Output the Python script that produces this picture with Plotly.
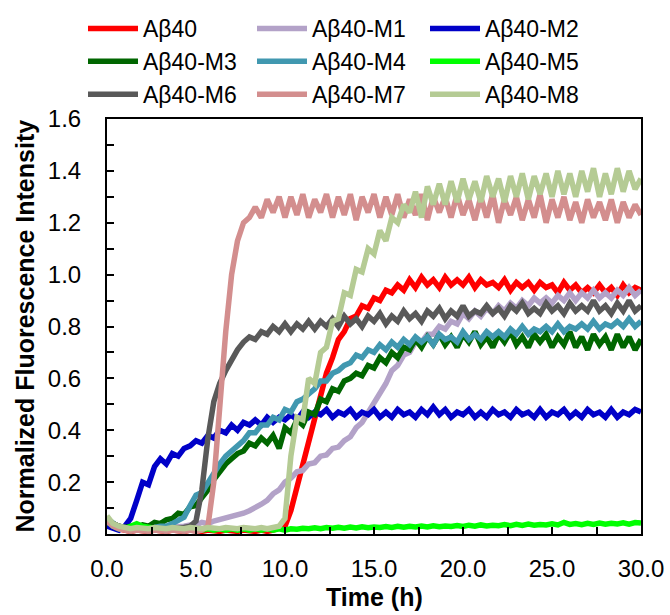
import plotly.graph_objects as go

time_h = [0.0, 0.33, 0.67, 1.0, 1.33, 1.67, 2.0, 2.33, 2.67, 3.0,
          3.33, 3.67, 4.0, 4.33, 4.67, 5.0, 5.33, 5.67, 6.0, 6.33,
          6.67, 7.0, 7.33, 7.67, 8.0, 8.33, 8.67, 9.0, 9.33, 9.67,
          10.0, 10.33, 10.67, 11.0, 11.33, 11.67, 12.0, 12.33, 12.67, 13.0,
          13.33, 13.67, 14.0, 14.33, 14.67, 15.0, 15.33, 15.67, 16.0, 16.33,
          16.67, 17.0, 17.33, 17.67, 18.0, 18.33, 18.67, 19.0, 19.33, 19.67,
          20.0, 20.33, 20.67, 21.0, 21.33, 21.67, 22.0, 22.33, 22.67, 23.0,
          23.33, 23.67, 24.0, 24.33, 24.67, 25.0, 25.33, 25.67, 26.0, 26.33,
          26.67, 27.0, 27.33, 27.67, 28.0, 28.33, 28.67, 29.0, 29.33, 29.67,
          30.0]

ab40 = [0.05, 0.03, 0.02, 0.015, 0.01, 0.015, 0.01, 0.01, 0.015, 0.01,
        0.01, 0.015, 0.01, 0.01, 0.015, 0.01, 0.01, 0.015, 0.01, 0.01,
        0.015, 0.01, 0.01, 0.015, 0.01, 0.01, 0.015, 0.01, 0.015, 0.02,
        0.03, 0.09, 0.18, 0.28, 0.36, 0.45, 0.55, 0.62, 0.68, 0.75,
        0.78, 0.83, 0.84, 0.88, 0.87, 0.91, 0.90, 0.94, 0.93, 0.96,
        0.94,
        0.98, 0.95, 0.99, 0.96, 0.98, 0.95, 0.99, 0.96, 0.98, 0.96,
        0.99, 0.95, 0.98, 0.96, 0.97, 0.95, 0.98, 0.94, 0.97, 0.95,
        0.97, 0.94, 0.97, 0.95, 0.96, 0.93, 0.97, 0.94, 0.96, 0.93,
        0.95, 0.93, 0.96, 0.93, 0.95, 0.92, 0.96, 0.93, 0.95, 0.94]

m1 = [0.05, 0.03, 0.025, 0.02, 0.02, 0.025, 0.02, 0.02, 0.025, 0.02,
      0.025, 0.025, 0.03, 0.03, 0.035,
      0.035, 0.045, 0.04, 0.05, 0.055, 0.06, 0.065, 0.075, 0.08, 0.09,
      0.10, 0.115, 0.13, 0.155, 0.17,
      0.20, 0.215, 0.24, 0.245, 0.27, 0.275, 0.30, 0.305, 0.33, 0.335,
      0.36, 0.375, 0.41, 0.43, 0.47, 0.51, 0.55, 0.58, 0.63, 0.65,
      0.69, 0.70, 0.74, 0.74, 0.77, 0.77, 0.80, 0.79, 0.82, 0.81,
      0.85, 0.83, 0.86, 0.84, 0.87, 0.85, 0.88, 0.86, 0.89, 0.87,
      0.90, 0.88, 0.91, 0.89, 0.91, 0.89, 0.92, 0.90, 0.93, 0.90,
      0.93, 0.91, 0.94, 0.91, 0.93, 0.91, 0.94, 0.92, 0.95, 0.92,
      0.94]

m2 = [0.03, 0.02, 0.015, 0.03, 0.06, 0.13, 0.20, 0.19, 0.26, 0.29,
      0.27, 0.31, 0.30, 0.33, 0.34, 0.36, 0.35, 0.38, 0.37, 0.40,
      0.39, 0.42, 0.40, 0.43, 0.42, 0.44, 0.42, 0.45, 0.43, 0.45,
      0.44, 0.46, 0.44, 0.47, 0.45, 0.47, 0.46,
      0.48, 0.45, 0.47, 0.46, 0.48, 0.45, 0.47, 0.46, 0.48, 0.45,
      0.47, 0.45, 0.48, 0.46, 0.47, 0.45, 0.48, 0.46, 0.49, 0.46,
      0.48, 0.45, 0.47, 0.46, 0.48, 0.45, 0.47, 0.45, 0.48, 0.46,
      0.47, 0.45, 0.48, 0.46, 0.47, 0.45, 0.48, 0.45, 0.47, 0.46,
      0.48, 0.45, 0.47, 0.45, 0.48, 0.46, 0.47, 0.45, 0.48, 0.45,
      0.47, 0.46, 0.48, 0.47]

m3 = [0.06, 0.04, 0.03, 0.025, 0.03, 0.025, 0.035, 0.03, 0.045, 0.04,
      0.055, 0.06, 0.08, 0.075, 0.105, 0.11, 0.14, 0.17, 0.21, 0.24,
      0.27, 0.29, 0.31, 0.32, 0.35, 0.34, 0.37, 0.35, 0.38, 0.33,
      0.41, 0.39, 0.44, 0.42, 0.47, 0.46, 0.52, 0.51, 0.56, 0.55,
      0.59, 0.60, 0.62, 0.61, 0.65, 0.64, 0.68, 0.66, 0.70, 0.68,
      0.72, 0.71, 0.75, 0.72, 0.76,
      0.73, 0.77, 0.73, 0.76, 0.72, 0.77, 0.74, 0.78, 0.73, 0.76,
      0.72, 0.77, 0.74, 0.78, 0.73, 0.76, 0.72, 0.77, 0.74, 0.77,
      0.72, 0.76, 0.73, 0.78, 0.72, 0.76, 0.71, 0.77, 0.73, 0.76,
      0.71, 0.77, 0.72, 0.76, 0.71, 0.75]

m4 = [0.06, 0.04, 0.025, 0.02, 0.02, 0.025, 0.02, 0.025, 0.025, 0.03,
      0.03, 0.04, 0.05, 0.065, 0.11, 0.15, 0.16, 0.20, 0.24, 0.27,
      0.30, 0.32, 0.34, 0.36, 0.39, 0.39, 0.42, 0.42, 0.45, 0.44,
      0.48, 0.47, 0.51, 0.52, 0.54, 0.56, 0.59, 0.59, 0.62, 0.63,
      0.65, 0.66, 0.69, 0.68, 0.71, 0.70, 0.73, 0.71, 0.74, 0.72,
      0.75,
      0.73, 0.76, 0.74, 0.76, 0.73, 0.77, 0.75, 0.76, 0.74, 0.78,
      0.75, 0.77, 0.75, 0.78, 0.76, 0.78, 0.76, 0.79, 0.77, 0.80,
      0.77, 0.79, 0.78, 0.80, 0.78, 0.81, 0.78, 0.80, 0.79, 0.81,
      0.79, 0.82, 0.79, 0.81, 0.80, 0.82, 0.80, 0.83, 0.80, 0.82]

m5 = [0.05, 0.03, 0.02, 0.02, 0.03, 0.04, 0.03, 0.025, 0.02,
      0.02, 0.015, 0.02, 0.015, 0.02, 0.015, 0.02, 0.015, 0.02, 0.015,
      0.02, 0.015, 0.02, 0.015, 0.02, 0.015, 0.02, 0.015, 0.02, 0.015,
      0.02, 0.015,
      0.02, 0.018, 0.022, 0.02, 0.024, 0.02, 0.025, 0.022, 0.026, 0.022,
      0.027, 0.023, 0.028, 0.024, 0.027, 0.025, 0.029, 0.025, 0.03, 0.026,
      0.03, 0.027, 0.031, 0.027, 0.032, 0.028, 0.031, 0.029, 0.033, 0.029,
      0.034, 0.03, 0.035, 0.031, 0.034, 0.032, 0.036, 0.032, 0.037, 0.033,
      0.038, 0.034, 0.037, 0.035, 0.039, 0.035, 0.045, 0.037, 0.04, 0.036,
      0.041, 0.037, 0.042, 0.038, 0.041, 0.039, 0.043, 0.038, 0.044, 0.042]

m6 = [0.06, 0.04, 0.03,
      0.02, 0.015, 0.02, 0.015, 0.02, 0.015, 0.02, 0.015, 0.02, 0.02, 0.025, 0.03,
      0.05, 0.17, 0.37, 0.51, 0.58, 0.63, 0.67, 0.71, 0.74, 0.76,
      0.75, 0.78, 0.77, 0.80, 0.78, 0.81, 0.78, 0.81, 0.79,
      0.82, 0.79, 0.82, 0.80, 0.83, 0.80, 0.84, 0.81, 0.83, 0.80,
      0.84, 0.82, 0.85, 0.81, 0.84, 0.82, 0.86, 0.83, 0.85, 0.82,
      0.86, 0.84, 0.87, 0.83, 0.86, 0.84, 0.88, 0.84, 0.86, 0.85,
      0.88, 0.85, 0.87, 0.84, 0.88, 0.86, 0.89, 0.85, 0.87, 0.85,
      0.89, 0.86, 0.88, 0.85, 0.89, 0.86, 0.88, 0.86, 0.90, 0.86,
      0.88, 0.85, 0.89, 0.86, 0.90, 0.86, 0.88]

m7 = [0.05, 0.03, 0.02,
      0.015, 0.01, 0.015, 0.01, 0.01, 0.015, 0.01, 0.01, 0.015, 0.01, 0.01,
      0.015, 0.01, 0.015,
      0.03, 0.20, 0.50, 0.78, 1.00, 1.13, 1.20, 1.22, 1.26, 1.22, 1.29,
      1.24, 1.30, 1.22, 1.30, 1.23, 1.31, 1.22, 1.29, 1.24, 1.31,
      1.22, 1.30, 1.23, 1.31, 1.21, 1.30, 1.24, 1.31, 1.22, 1.30,
      1.23, 1.31, 1.22, 1.29, 1.23, 1.31, 1.21, 1.30, 1.24, 1.30,
      1.22, 1.31, 1.23, 1.29, 1.21, 1.30, 1.22, 1.31, 1.20, 1.29,
      1.23, 1.30, 1.21, 1.29, 1.22, 1.31, 1.20, 1.29, 1.22, 1.30,
      1.21, 1.28, 1.20, 1.29, 1.22, 1.28, 1.21, 1.29, 1.20, 1.28,
      1.22, 1.27, 1.23]

m8 = [0.07, 0.04, 0.03,
      0.025, 0.02, 0.025, 0.02, 0.02, 0.025, 0.02, 0.02, 0.025, 0.02,
      0.02, 0.025, 0.02, 0.02, 0.025, 0.02, 0.02, 0.025, 0.02, 0.02,
      0.025, 0.02, 0.02, 0.025, 0.02, 0.025, 0.03,
      0.06, 0.30, 0.45, 0.44, 0.60, 0.58, 0.70, 0.72, 0.82, 0.83,
      0.93, 0.92, 1.02, 1.01, 1.10, 1.08, 1.17, 1.13, 1.22, 1.20,
      1.27, 1.24, 1.32, 1.22, 1.34, 1.27,
      1.35, 1.27, 1.36, 1.28, 1.37, 1.29, 1.36, 1.28, 1.38, 1.30,
      1.37, 1.28, 1.38, 1.30, 1.39, 1.29, 1.38, 1.31, 1.39, 1.30,
      1.40, 1.31, 1.39, 1.30, 1.40, 1.32, 1.41, 1.30, 1.39, 1.31,
      1.41, 1.32, 1.40, 1.33, 1.37]

names = ["Aβ40", "Aβ40-M1", "Aβ40-M2", "Aβ40-M3", "Aβ40-M4",
         "Aβ40-M5", "Aβ40-M6", "Aβ40-M7", "Aβ40-M8"]
series = [ab40, m1, m2, m3, m4, m5, m6, m7, m8]
colors = ["#FF0000", "#B3A2C8", "#0000C8", "#006600", "#4198B0",
          "#00FF00", "#595959", "#D38E8E", "#B5CB94"]
legend_ids = ["legend", "legend2", "legend3"]

x_title = "Time (h)"
y_title = "Normalized Fluorescence Intensity"

FONT = "Arial, Liberation Sans, sans-serif"
W, H = 670, 615
L, R, T, B = 107, 29, 119, 81
PW, PH = W - L - R, H - T - B

fig = go.Figure()
for k, (nm, ys, col) in enumerate(zip(names, series, colors)):
    fig.add_trace(go.Scatter(
        x=time_h, y=ys, mode="lines", name=nm,
        line=dict(color=col, width=5.5),
        legend=legend_ids[k % 3], legendgroup=nm,
    ))

leg_top = 1 + (T - 7) / PH
leg_common = dict(
    orientation="v", xref="container", yref="paper",
    yanchor="top", xanchor="left", bgcolor="rgba(0,0,0,0)",
    font=dict(family=FONT, size=23, color="black"),
    tracegroupgap=0, itemwidth=50, y=leg_top,
)
fig.update_layout(
    legend=dict(x=83 / W, **leg_common),
    legend2=dict(x=252 / W, **leg_common),
    legend3=dict(x=425 / W, **leg_common),
)

fig.update_layout(
    width=W, height=H,
    margin=dict(l=L, r=R, t=T, b=B, autoexpand=False),
    plot_bgcolor="white", paper_bgcolor="white",
    font=dict(family=FONT, color="black"),
    showlegend=True,
    annotations=[
        dict(text="<b>" + y_title + "</b>", xref="paper", yref="paper",
             x=(24 - L) / PW, y=0.5, xanchor="center", yanchor="middle",
             textangle=-90, showarrow=False,
             font=dict(family=FONT, size=25, color="black")),
        dict(text="<b>" + x_title + "</b>", xref="paper", yref="paper",
             x=0.5, y=-(597 - (T + PH)) / PH, xanchor="center", yanchor="middle",
             showarrow=False,
             font=dict(family=FONT, size=25, color="black")),
    ],
)
fig.update_xaxes(
    range=[0, 30], dtick=5, tick0=0, tickformat=".1f",
    ticks="inside", ticklen=7, tickwidth=1.5, tickcolor="black",
    minor=dict(dtick=2.5, ticks="inside", ticklen=7, tickwidth=1.5, tickcolor="black"),
    showline=True, linecolor="black", linewidth=2, mirror=True,
    showgrid=False, zeroline=False, automargin=False,
    tickfont=dict(family=FONT, size=24, color="black"),
    ticklabelstandoff=12,
)
fig.update_yaxes(
    range=[0, 1.6], dtick=0.2, tick0=0, tickformat=".1f",
    ticks="inside", ticklen=7, tickwidth=1.5, tickcolor="black",
    minor=dict(dtick=0.1, ticks="inside", ticklen=7, tickwidth=1.5, tickcolor="black"),
    showline=True, linecolor="black", linewidth=2, mirror=True,
    showgrid=False, zeroline=False, automargin=False,
    tickfont=dict(family=FONT, size=24, color="black"),
    ticklabelstandoff=19,
)

fig.write_html("out.html", config={"displayModeBar": False},
               post_script="document.body.style.margin='0px';")
